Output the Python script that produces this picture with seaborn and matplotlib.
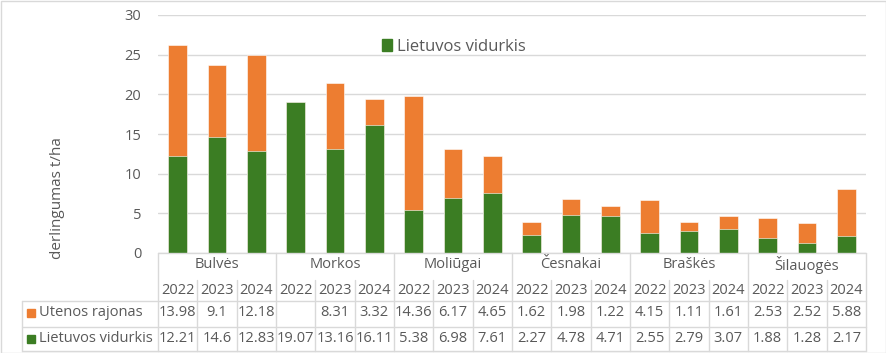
import numpy as np
import matplotlib
matplotlib.use("Agg")
import matplotlib.pyplot as plt
import seaborn as sns
import pandas as pd
from matplotlib.patches import Patch, Rectangle
from matplotlib.lines import Line2D
from matplotlib.transforms import blended_transform_factory

# Data
crops = ["Bulvės", "Morkos", "Moliūgai", "Česnakai", "Braškės", "Šilauogės"]
years = ["2022", "2023", "2024"]
utenos = [13.98, 9.1, 12.18, np.nan, 8.31, 3.32, 14.36, 6.17, 4.65,
          1.62, 1.98, 1.22, 4.15, 1.11, 1.61, 2.53, 2.52, 5.88]
lietuvos = [12.21, 14.6, 12.83, 19.07, 13.16, 16.11, 5.38, 6.98, 7.61,
            2.27, 4.78, 4.71, 2.55, 2.79, 3.07, 1.88, 1.28, 2.17]

orange = "#ED7D31"
green = "#3B7D23"
gray_text = "#595959"
grid_col = "#D9D9D9"

df = pd.DataFrame({
    "label": [f"{c} {y}" for c in crops for y in years],
    "utenos": utenos,
    "lietuvos": lietuvos,
})
df["total"] = df["lietuvos"] + df["utenos"].fillna(0)

sns.set_theme(style="white")
plt.rcParams["font.family"] = ["Open Sans", "DejaVu Sans"]

fig = plt.figure(figsize=(8.86, 3.53), dpi=100)
ax = fig.add_axes([158 / 886, 1 - 253 / 353, 708 / 886, 238 / 353])

# stacked bars: total in orange, green drawn over it
sns.barplot(data=df, x="label", y="total", color=orange, width=0.48,
            saturation=1, ax=ax, edgecolor="white", linewidth=0.4)
sns.barplot(data=df, x="label", y="lietuvos", color=green, width=0.48,
            saturation=1, ax=ax, edgecolor="white", linewidth=0.4)

ax.set_ylim(0, 30)
ax.set_xlim(-0.5, len(df) - 0.5)
ax.set_yticks(range(0, 31, 5))
ax.yaxis.grid(True, color=grid_col, linewidth=1)
ax.set_axisbelow(True)
for s in ax.spines.values():
    s.set_visible(False)
ax.set_xticks([])
ax.set_xlabel("")
ax.tick_params(axis="y", length=0, pad=12, labelsize=10.5, labelcolor=gray_text)
ax.set_ylabel("derlingumas t/ha", fontsize=11, color=gray_text)
ax.yaxis.set_label_coords(-0.132, 0.23)

ax.legend(handles=[Patch(color=green, label="Lietuvos vidurkis")],
          loc="center left", bbox_to_anchor=(0.304, 0.866), frameon=False,
          handlelength=0.65, handleheight=0.65, handletextpad=0.3,
          fontsize=12, labelcolor=gray_text, borderpad=0)

# data table below the axis
tr = blended_transform_factory(ax.transData, fig.transFigure)
y_cat, y_year, y_ut, y_lt = 1 - 265 / 353, 1 - 290 / 353, 1 - 313 / 353, 1 - 339 / 353
y_top, y_mid1, y_mid2, y_bot = 1 - 253 / 353, 1 - 301 / 353, 1 - 327 / 353, 1 - 351 / 353
y_inner = 1 - 280 / 353
lw = 1.0

n = len(df)
for i in range(n + 1):
    x = i - 0.5
    top = y_top if i % 3 == 0 else y_inner
    fig.add_artist(Line2D([x, x], [top, y_bot], transform=tr, color=grid_col, lw=lw))
fig.add_artist(Line2D([-0.5, n - 0.5], [y_top, y_top], transform=tr, color=grid_col, lw=lw))
for yy in (y_mid1, y_mid2, y_bot):
    fig.add_artist(Line2D([22 / 886, 866 / 886], [yy, yy], transform=fig.transFigure,
                          color=grid_col, lw=lw))
fig.add_artist(Line2D([22 / 886, 22 / 886], [y_mid1, y_bot], transform=fig.transFigure,
                      color=grid_col, lw=lw))

fs = 10.5
for j, c in enumerate(crops):
    fig.text(j * 3 + 1, y_cat, c, transform=tr, ha="center", va="center",
             fontsize=fs, color=gray_text)
for i in range(n):
    fig.text(i, y_year, years[i % 3], transform=tr, ha="center", va="center",
             fontsize=fs, color=gray_text)
    u = df["utenos"].iloc[i]
    if not np.isnan(u):
        fig.text(i, y_ut, f"{u:g}", transform=tr, ha="center", va="center",
                 fontsize=fs, color=gray_text)
    fig.text(i, y_lt, f"{df['lietuvos'].iloc[i]:g}", transform=tr, ha="center",
             va="center", fontsize=fs, color=gray_text)

# row headers with colour keys
for yy, col, name in ((y_ut, orange, "Utenos rajonas"), (y_lt, green, "Lietuvos vidurkis")):
    fig.add_artist(Rectangle((27 / 886, yy - 4 / 353), 8 / 886, 8 / 353,
                             transform=fig.transFigure, color=col))
    fig.text(39 / 886, yy, name, ha="left", va="center", fontsize=fs, color=gray_text)

# figure border
fig.add_artist(Rectangle((0.5 / 886, 0.5 / 353), 885 / 886, 352 / 353, transform=fig.transFigure,
                         fill=False, edgecolor=grid_col, lw=1))

fig.savefig("out.png", dpi=100)
